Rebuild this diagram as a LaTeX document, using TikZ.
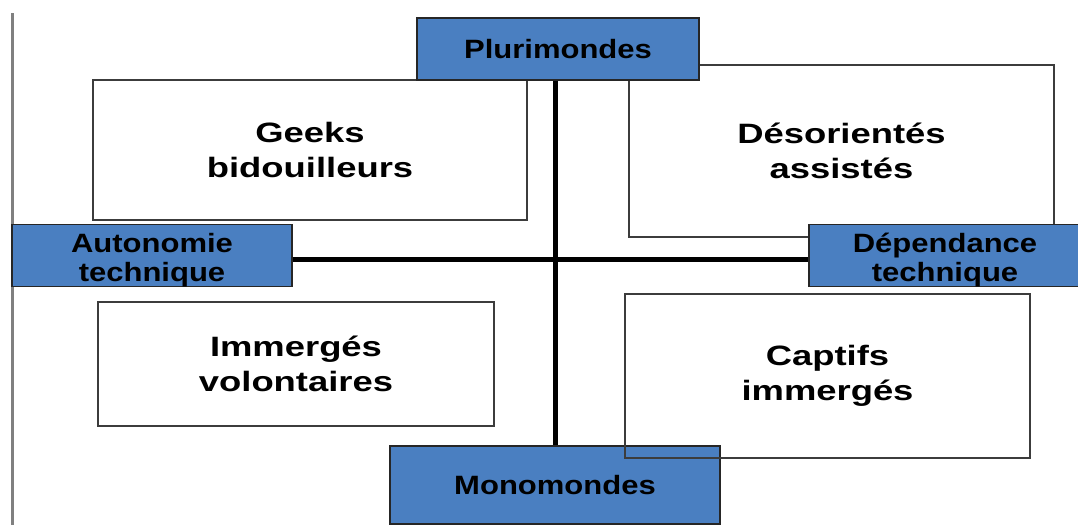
\documentclass[tikz,border=0pt]{standalone}
\usepackage{fontspec}
\usepackage{tikz}
\setmainfont{Liberation Sans}
\newfontfamily\quadFont[FakeStretch=1.3]{Liberation Sans}
\newfontfamily\axisFont[FakeStretch=1.17]{Liberation Sans}
\definecolor{axisBlue}{RGB}{74,127,193}
\definecolor{frameGray}{RGB}{60,60,60}
\newcommand{\topPad}{\rule{0pt}{28pt}}
\tikzset{
    axisBox/.style={draw=black!85, line width=1.2pt, fill=axisBlue, inner sep=0pt, align=center,
                    font=\axisFont\bfseries\fontsize{26.5}{29}\selectfont},
    quadBox/.style={draw=frameGray, line width=1.3pt, inner sep=0pt, align=center,
                    font=\quadFont\bfseries\fontsize{28}{35}\selectfont},
    axisLine/.style={line width=5pt}
}

\begin{document}
\begin{tikzpicture}[x=1pt, y=-1pt]
        \useasboundingbox (0, 0) rectangle (1078, 525);

        \draw[gray, line width=3pt] (12, 13) -- (12, 525);

        \node[quadBox, minimum width=434pt, minimum height=140pt] (geeks)       at (310  , 150) {Geeks\\bidouilleurs};
        \node[quadBox, minimum width=425pt, minimum height=172pt] (desorientes) at (841.5, 151) {Désorientés\\assistés};
        \node[quadBox, minimum width=396pt, minimum height=124pt] (immerges)    at (296  , 364) {Immergés\\volontaires};

        \node[axisBox, minimum width=282pt, minimum height=62pt] (plurimondes) at (558,  49  ) {Plurimondes};
        \node[axisBox, minimum width=280pt, minimum height=61pt] (autonomie)   at (152, 255.5) {\topPad Autonomie\\technique};
        \node[axisBox, minimum width=272pt, minimum height=61pt] (dependance)  at (945, 255.5) {\topPad Dépendance\\technique};
        \node[axisBox, minimum width=330pt, minimum height=78pt] (monomondes)  at (555, 485  ) {Monomondes};

        \draw[axisLine] (monomondes.north |- plurimondes.south) -- (monomondes.north);
        \draw[axisLine] ([yshift=-3.5pt]autonomie.east) -- ([yshift=-3.5pt]dependance.west);

        \node[quadBox, minimum width=405pt, minimum height=164pt] (captifs)     at (827.5, 376) {Captifs\\immergés};
    \end{tikzpicture}
\end{document}
